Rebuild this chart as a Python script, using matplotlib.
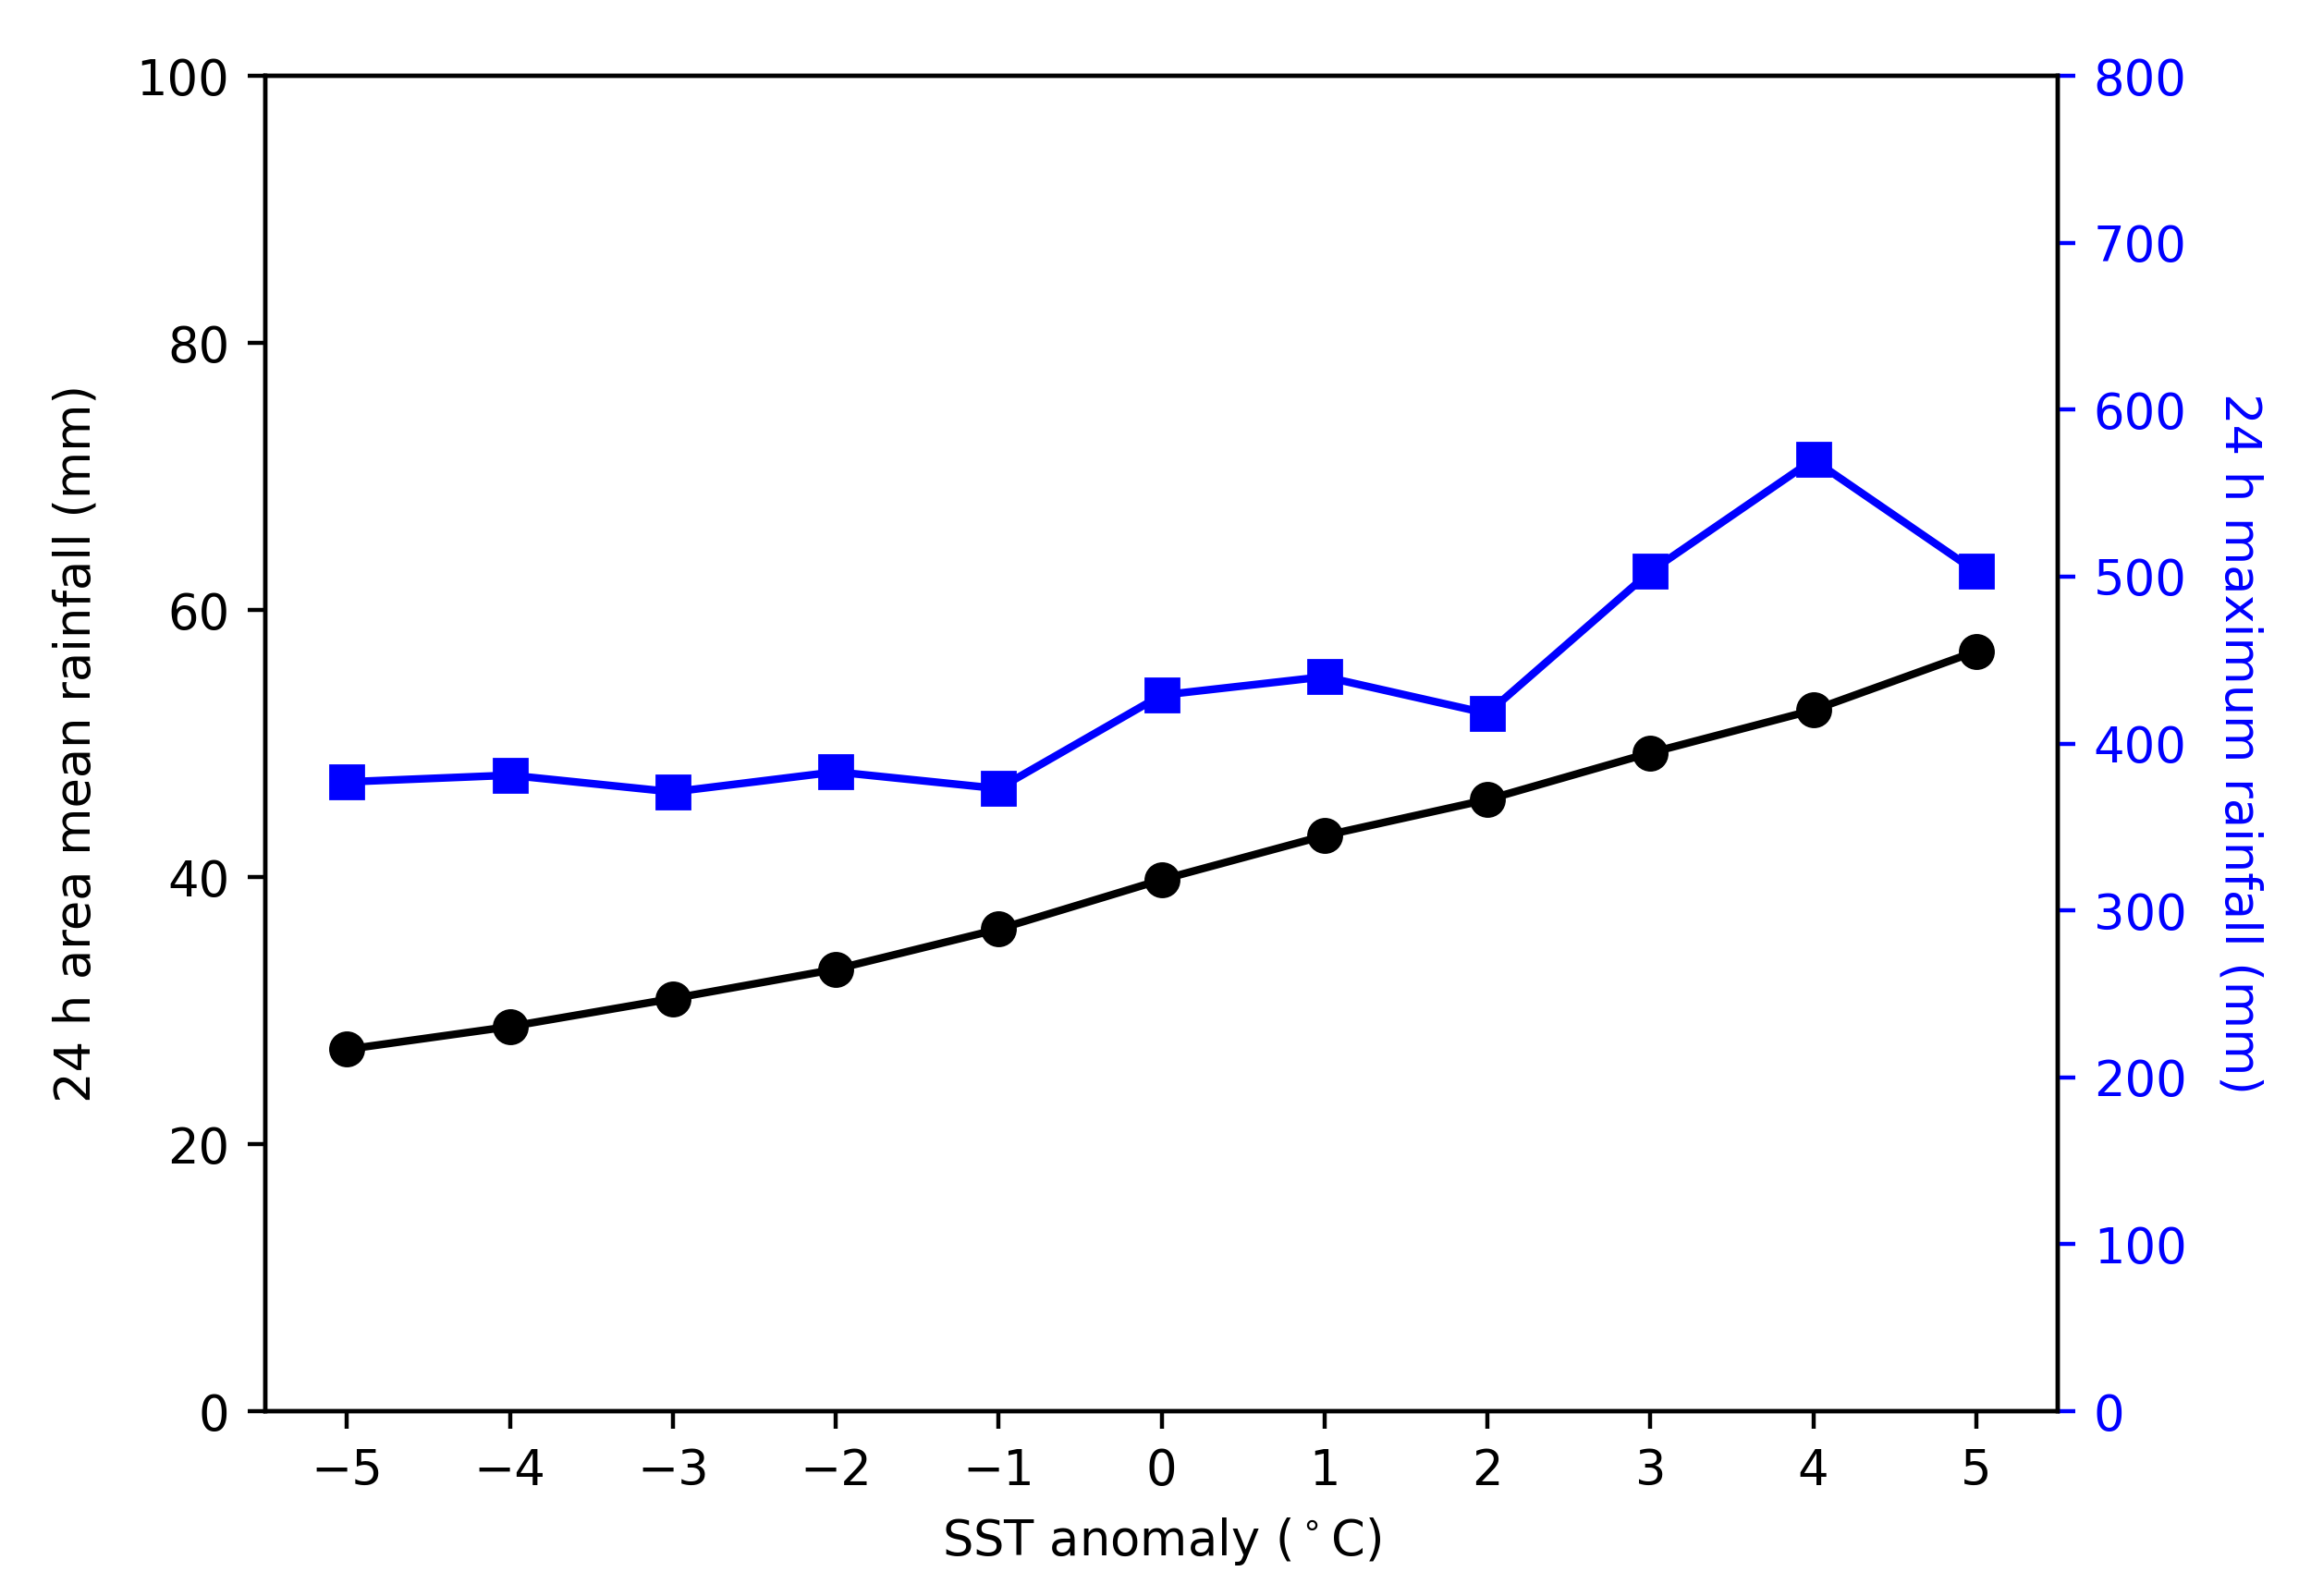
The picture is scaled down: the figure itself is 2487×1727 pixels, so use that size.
import matplotlib
matplotlib.use("Agg")
import matplotlib.pyplot as plt

# === datos ===
sst_anomaly = [-5, -4, -3, -2, -1, 0, 1, 2, 3, 4, 5]
area_mean_rain = [27.1, 28.8, 30.9, 33.1, 36.1, 39.8, 43.1, 45.8, 49.3, 52.5, 56.9]
max_rain = [377, 381, 371, 383, 373, 429, 440, 418, 503, 570, 503]

plt.rcParams['font.family'] = ['DejaVu Sans']
plt.rcParams['font.size'] = 19
plt.rcParams['mathtext.fontset'] = 'dejavusans'

fig = plt.figure(figsize=(12.435, 8.635), dpi=200)
ax1 = fig.add_axes([0.1155, 0.1158, 0.7795, 0.8367])
ax2 = ax1.twinx()

ax1.plot(sst_anomaly, area_mean_rain, color='black', marker='o',
         markersize=13, linewidth=3)
ax2.plot(sst_anomaly, max_rain, color='#0000ff', marker='s',
         markersize=13, linewidth=3)

ax1.set_xlim(-5.5, 5.5)
ax1.set_ylim(0, 100)
ax2.set_ylim(0, 800)
ax1.set_xticks(sst_anomaly)

ax1.set_xlabel(r'SST anomaly ($^\circ$C)', labelpad=8)
ax1.set_ylabel('24 h area mean rainfall (mm)', labelpad=14)
ax2.set_ylabel('24 h maximum rainfall (mm)', color='#0000ff',
               rotation=270, labelpad=30)

for ax in (ax1, ax2):
    ax.tick_params(length=7, width=1.6, pad=7)
    for s in ax.spines.values():
        s.set_linewidth(1.6)
ax2.tick_params(axis='y', colors='#0000ff')

fig.savefig('out.png', dpi=200)
